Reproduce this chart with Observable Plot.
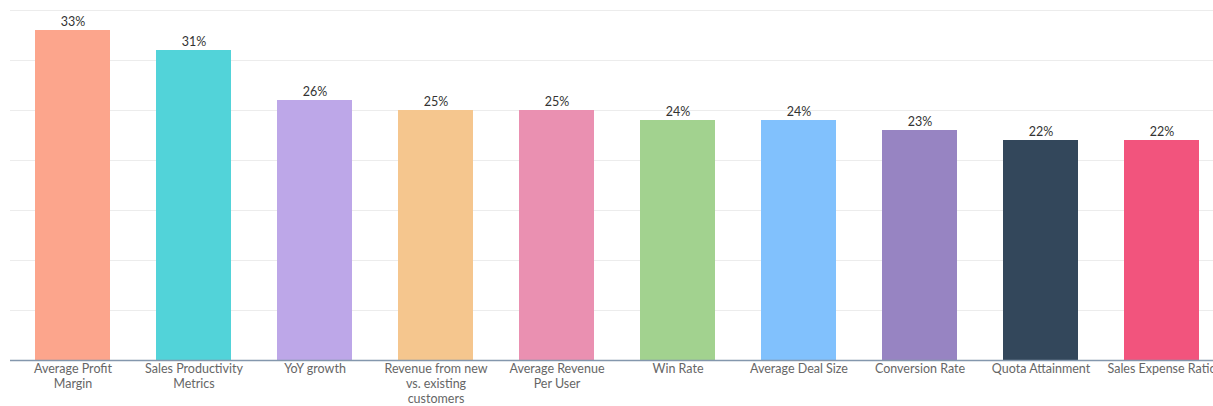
<!DOCTYPE html>
<html>
<head>
<meta charset="utf-8">
<script src="https://cdn.jsdelivr.net/npm/d3@7"></script>
<script src="https://cdn.jsdelivr.net/npm/@observablehq/plot@0.6"></script>
<style>
  html, body { margin: 0; padding: 0; background: #fff; overflow: hidden; }
  #chart svg { overflow: visible; }
</style>
</head>
<body>
<div id="chart"></div>
<script>
const categories = [
  "Average Profit\nMargin",
  "Sales Productivity\nMetrics",
  "YoY growth",
  "Revenue from new\nvs. existing\ncustomers",
  "Average Revenue\nPer User",
  "Win Rate",
  "Average Deal Size",
  "Conversion Rate",
  "Quota Attainment",
  "Sales Expense Ratio"
];
const values = [33, 31, 26, 25, 25, 24, 24, 23, 22, 22];
const colors = ["#FCA58C", "#52D3D9", "#BDA7E8", "#F5C68E", "#EA90B1", "#A2D28F", "#81C1FD", "#9784C2", "#33475B", "#F2547D"];
const gridTicks = [5, 10, 15, 20, 25, 30, 35];

const data = categories.map((c, i) => ({cat: c, value: values[i], color: colors[i]}));

const chart = Plot.plot({
  width: 1213,
  height: 406,
  marginTop: 10,
  marginBottom: 46,
  marginLeft: 10,
  marginRight: 0,
  style: {fontFamily: "Lato, 'Open Sans', sans-serif", background: "#fff"},
  x: {domain: categories, range: [10, 1224], paddingInner: 0.383, paddingOuter: 0.2, label: null},
  y: {domain: [0, 35], axis: null},
  marks: [
    Plot.ruleY(gridTicks, {stroke: "#ececec", strokeWidth: 1}),
    Plot.barY(data, {x: "cat", y: "value", fill: "color"}),
    Plot.ruleY([0], {stroke: "#8497ad", strokeWidth: 1.5}),
    Plot.text(data, {x: "cat", y: "value", text: d => d.value + "%", dy: -9, fill: "#333", fontSize: 12.5}),
    Plot.axisX({tickSize: 0, tickPadding: 2, fontSize: 12.5, fill: "#666", lineHeight: 1.2, label: null})
  ]
});
document.getElementById("chart").appendChild(chart);
</script>
</body>
</html>
